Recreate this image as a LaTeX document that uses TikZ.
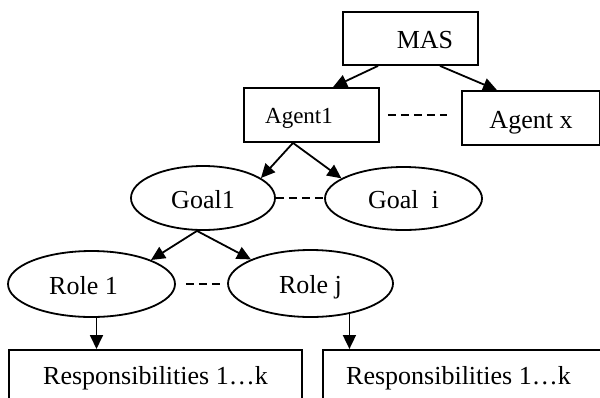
\documentclass[tikz,border=0pt]{standalone}
\usepackage{fontspec}
\setmainfont{Liberation Serif}
\usepackage{tikz}
\usetikzlibrary{arrows.meta,shapes.geometric}

\begin{document}
\begin{tikzpicture}[x=1pt,y=-1pt,line width=1.8pt,
    box/.style={draw,rectangle,inner sep=0pt,text height=20pt,text depth=0pt,font=\fontsize{26}{30}\selectfont},
    oval/.style={draw,ellipse,inner sep=0pt,text height=20pt,text depth=0pt,font=\fontsize{26}{30}\selectfont},
    link/.style={-{Triangle[length=14pt,width=13pt]}},
    gap/.style={dash pattern=on 8pt off 5pt}]
    \useasboundingbox (0,0) rectangle (600,397);
    \clip (0,0) rectangle (600,397);

    % top level
    \node[box,minimum width=135pt,minimum height=53pt] (mas) at (410.5,38.5) {\hspace*{29pt}MAS};
    \node[box,minimum width=135pt,minimum height=54pt,text height=16pt,font=\fontsize{23}{27}\selectfont] (agent1) at (311.5,115) {Agent1\hspace*{25pt}};
    \node[box,minimum width=138pt,minimum height=54pt] (agentx) at (531,118) {Agent x};

    % goals and roles
    \node[oval,minimum width=144pt,minimum height=64pt] (goal1) at (203,198) {Goal1};
    \node[oval,minimum width=157pt,minimum height=63pt] (goali) at (403.5,198.5) {Goal\ \ i};
    \node[oval,minimum width=167pt,minimum height=66pt] (role1) at (91.5,284) {Role 1\hspace*{16pt}};
    \node[oval,minimum width=165pt,minimum height=67pt] (rolej) at (310.5,283.5) {Role j};

    % responsibilities, cut at the bottom
    \node[box,minimum width=293pt,minimum height=50pt,anchor=north] (resp1) at (155.5,349) {Responsibilities 1…k};
    \node[box,minimum width=279pt,minimum height=50pt,anchor=north] (resp2) at (462.5,349) {\hspace*{-8pt}Responsibilities 1…k};

    \draw[link] ([xshift=-32.5pt]mas.south) -- ([xshift=21.5pt]agent1.north);
    \draw[link] ([xshift=29.5pt]mas.south) -- ([xshift=-34pt]agentx.north);
    \draw[link] ([xshift=-18.5pt]agent1.south) -- (goal1.19);
    \draw[link] ([xshift=-18.5pt]agent1.south) -- (goali.162);
    \draw[link] ([xshift=-6pt]goal1.south) -- (role1.22);
    \draw[link] ([xshift=-6pt]goal1.south) -- (rolej.158);

    \coordinate (r1) at ([xshift=5pt]role1.south);
    \coordinate (rj) at (rolej.-38);
    \draw[link] (r1) -- (r1 |- resp1.north);
    \draw[link] (rj) -- (rj |- resp2.north);

    % dashed gaps
    \draw[gap,shorten <=8pt,shorten >=14pt] (agent1.east) -- (agent1.east -| agentx.west);
    \draw[gap] (goal1.east) -- (goal1.east -| goali.west);
    \draw[gap,shorten <=10pt,shorten >=6pt] (role1.east) -- (role1.east -| rolej.west);
\end{tikzpicture}
\end{document}
